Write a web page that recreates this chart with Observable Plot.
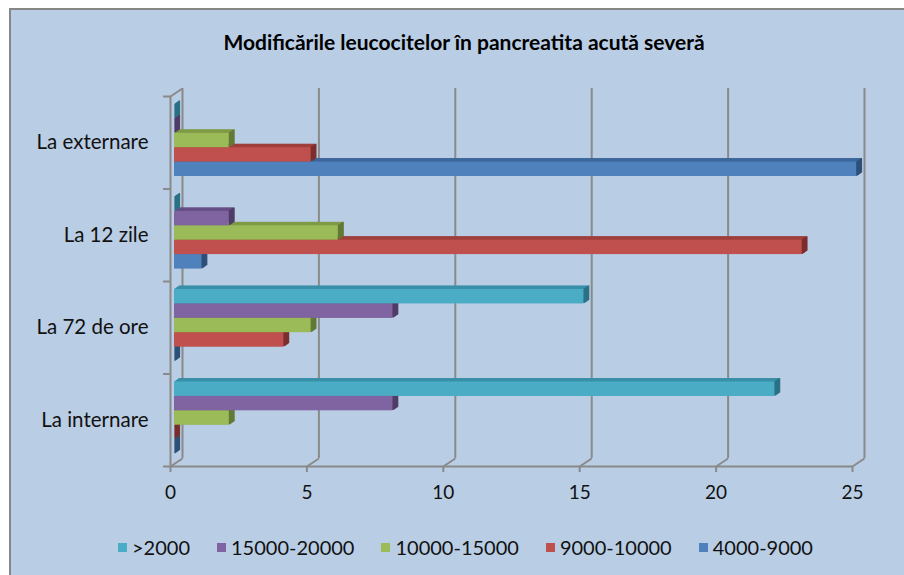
<!DOCTYPE html>
<html><head><meta charset="utf-8">
<script src="https://cdn.jsdelivr.net/npm/d3@7"></script>
<script src="https://cdn.jsdelivr.net/npm/@observablehq/plot@0.6"></script>
<style>
body{margin:0;background:#fff;font-family:Lato,"Open Sans",sans-serif;}
#panel{position:absolute;left:9px;top:8px;width:893px;height:565px;border-left:2px solid #878787;border-top:2px solid #878787;background:#b9cde5;overflow:hidden;}
#title{height:62px;box-sizing:border-box;padding:20px 0 0 13px;text-align:center;font-weight:bold;font-size:21px;line-height:24px;color:#000;}
#chart svg{display:block;}
#legend{box-sizing:border-box;padding:14px 0 0 16px;display:flex;justify-content:center;gap:27px;font-size:20px;line-height:22px;color:#111;}
#legend .item{display:flex;align-items:center;gap:5px;}
#legend .sw{width:9px;height:9px;display:inline-block;}
</style>
</head><body>
<div id="panel">
  <div id="title">Modificările leucocitelor în pancreatita acută severă</div>
  <div id="chart"></div>
  <div id="legend"></div>
</div>
<script>
// categories, bottom to top
const categories = ["La internare", "La 72 de ore", "La 12 zile", "La externare"];
// series, in order top to bottom inside each group (and legend order)
const seriesNames = [">2000", "15000-20000", "10000-15000", "9000-10000", "4000-9000"];
const valuesGt2000  = [22, 15, 0, 0];
const values15to20k = [8, 8, 2, 0];
const values10to15k = [2, 5, 6, 2];
const values9to10k  = [0, 4, 23, 5];
const values4to9k   = [0, 0, 1, 25];
const xTicks = [0, 5, 10, 15, 20, 25];
const frontColors = ["#4BACC6", "#8064A2", "#9BBB59", "#C0504D", "#4F81BD"];
const topColors   = ["#3790A8", "#654E83", "#7E9A45", "#9E3F3C", "#3C679B"];
const sideColors  = ["#2B7286", "#4F3D66", "#627A35", "#7C302E", "#2E5078"];

const seriesValues = [valuesGt2000, values15to20k, values10to15k, values9to10k, values4to9k];

const W = 893, H = 450, mL = 159, mR = 52, mT = 24, mB = 56;
const kx = (W - mL - mR) / 25, ky = (H - mT - mB) / 4;
const DX = 12 / kx, DY = 8 / ky;           // depth of the 3D walls in data units
const PAD = 11 / ky, BH = 14.4 / ky;        // group padding and bar thickness in y units

const rows = [];
categories.forEach((cat, ci) => {
  for (let j = seriesNames.length - 1; j >= 0; j--) {
    const top = ci + 1 - PAD - j * BH;
    rows.push({cat, ci, j, series: seriesNames[j], value: seriesValues[j][ci], top, bottom: top - BH});
  }
});

const grid = "#8a8a8a";
const marks = [
  Plot.ruleX(xTicks, {x: d => d, y1: 0, y2: 4, dx: 12, dy: -8, stroke: grid, strokeWidth: 2}),
  Plot.link(xTicks, {x1: d => d, y1: 0, x2: d => d + DX, y2: DY, stroke: grid, strokeWidth: 2}),
  Plot.link([0], {x1: 0, y1: 4, x2: DX, y2: 4 + DY, stroke: grid, strokeWidth: 2}),
  Plot.ruleX([0], {y1: 0, y2: 4, stroke: grid, strokeWidth: 2}),
  Plot.ruleY([0], {x1: 0, x2: 25, stroke: grid, strokeWidth: 2}),
  Plot.axisX(xTicks, {tickSize: 6, tickPadding: 13, fontSize: 19, stroke: grid, strokeWidth: 2, fill: "#111", label: null, tickFormat: d => d}),
  Plot.axisY([0, 1, 2, 3, 4], {tickSize: 7, stroke: grid, strokeWidth: 2, tickFormat: () => "", label: null})
];
const steps = [0.1, 0.2, 0.3, 0.4, 0.5, 0.6, 0.7, 0.8, 0.9, 1.0];
for (const t of steps) {
  marks.push(Plot.rect(rows, {x1: 0, x2: "value", y1: "bottom", y2: "top", fill: d => topColors[d.j], dx: 4 + 5 * t, dy: -3 - 3.5 * t}));
}
for (const t of steps) {
  marks.push(Plot.ruleX(rows, {x: "value", y1: "bottom", y2: "top", stroke: d => sideColors[d.j], strokeWidth: 1.2, dx: 4 + 5 * t, dy: -3 - 3.5 * t}));
}
marks.push(Plot.rect(rows, {x1: 0, x2: "value", y1: "bottom", y2: "top", fill: d => frontColors[d.j], dx: 4, dy: -3}));
marks.push(Plot.text(categories, {x: 0, y: (d, i) => i + 0.5, text: d => d, textAnchor: "end", dx: -22, fontSize: 20.5, fill: "#111"}));

const chart = Plot.plot({
  width: W, height: H,
  marginLeft: mL, marginRight: mR, marginTop: mT, marginBottom: mB,
  x: {domain: [0, 25], label: null},
  y: {domain: [0, 4], label: null},
  color: {type: "identity"},
  style: {background: "transparent", fontFamily: "Lato, 'Open Sans', sans-serif", fontSize: "19px", color: "#111", overflow: "visible"},
  marks
});
document.getElementById("chart").appendChild(chart);

const legend = document.getElementById("legend");
seriesNames.forEach((s, j) => {
  const item = document.createElement("div");
  item.className = "item";
  const sw = document.createElement("span");
  sw.className = "sw";
  sw.style.background = frontColors[j];
  const tx = document.createElement("span");
  tx.textContent = s;
  item.appendChild(sw); item.appendChild(tx);
  legend.appendChild(item);
});
</script>
</body></html>
